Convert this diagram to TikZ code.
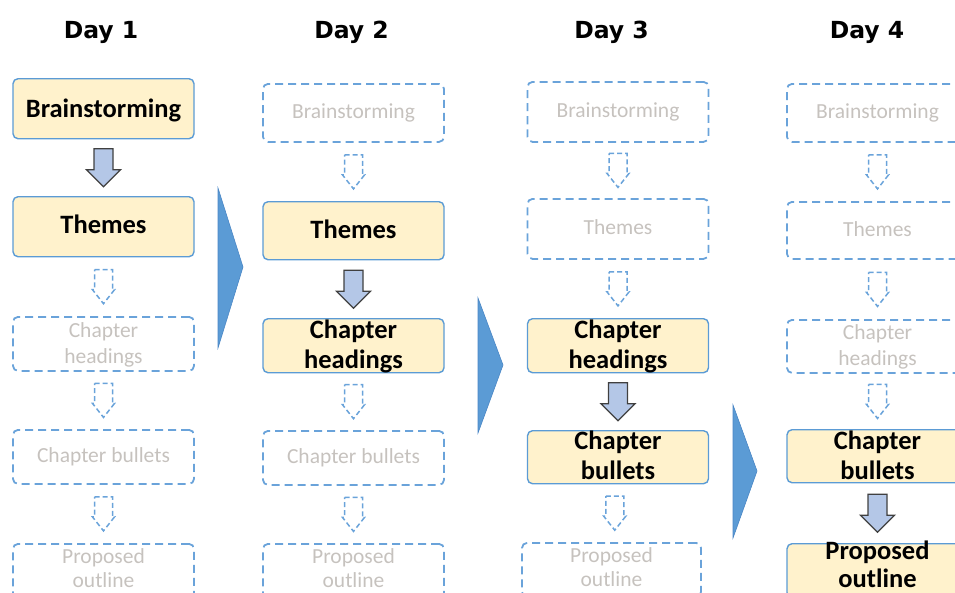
\documentclass[tikz,border=0pt]{standalone}
\usepackage{fontspec}
\setmainfont{Carlito}
\newfontfamily\dayfamily{DejaVu Sans}
\usetikzlibrary{calc}
\definecolor{boxblue}{HTML}{5B9BD5}
\definecolor{dashblue}{HTML}{6AA3DA}
\definecolor{boxfill}{HTML}{FFF2CC}
\definecolor{arrfill}{HTML}{B4C7E7}
\definecolor{arrdraw}{HTML}{404040}
\definecolor{trifill}{HTML}{5B9BD5}
\definecolor{tridraw}{HTML}{4A86C5}
\definecolor{ghostgray}{HTML}{C6C2BE}
\newcommand\actfont{\fontsize{26.5}{30}\selectfont\bfseries}
\newcommand\ghfont{\fontsize{21.5}{26}\selectfont}
\newcommand\dayfont{\dayfamily\fontsize{23.5}{28}\selectfont\bfseries}
% solid block arrow between two named boxes
\newcommand\solidarrow[2]{%
  \path ($(#1.south)!0.5!(#2.north)$) coordinate (m);
  \draw[solidarr] ([shift={(-9.5,-19)}]m) -- ([shift={(9.5,-19)}]m) -- ([shift={(9.5,2)}]m)
    -- ([shift={(17,2)}]m) -- ([shift={(0,19)}]m) -- ([shift={(-17,2)}]m)
    -- ([shift={(-9.5,2)}]m) -- cycle;}
% dashed block arrow between two named boxes
\newcommand\dasharrow[2]{%
  \path ($(#1.south)!0.5!(#2.north)$) coordinate (m);
  \draw[dasharr] ([shift={(-9,-17)}]m) -- ([shift={(9,-17)}]m) -- ([shift={(9,3)}]m)
    -- ([shift={(11,3)}]m) -- ([shift={(0,17)}]m) -- ([shift={(-11,3)}]m)
    -- ([shift={(-9,3)}]m) -- cycle;}
\begin{document}
\begin{tikzpicture}[x=1pt,y=-1pt,
  actbox/.style={draw=boxblue, line width=1.4pt, fill=boxfill, rounded corners=5pt,
     minimum width=181pt, inner sep=0pt, anchor=north},
  ghostbox/.style={draw=dashblue, line width=1.8pt, dash pattern=on 8pt off 5pt,
     rounded corners=5pt, minimum width=181pt, inner sep=0pt, anchor=north},
  acttxt/.style={font=\actfont, text=black, anchor=base, inner sep=0pt},
  ghtxt/.style={font=\ghfont, text=ghostgray, anchor=base, inner sep=0pt},
  daytxt/.style={font=\dayfont, text=black, anchor=base, inner sep=0pt},
  solidarr/.style={draw=arrdraw, line width=1.3pt, fill=arrfill, line join=miter},
  dasharr/.style={draw=dashblue, line width=1.5pt, dash pattern=on 5pt off 3pt},
  bigtri/.style={fill=trifill, draw=tridraw, line width=0.6pt, line join=miter}]
\useasboundingbox (0,0) rectangle (955,592);
\clip (0,0) rectangle (955,592);

% titles
\node[daytxt] (d1) at (101,38) {Day 1};
\node[daytxt] (d2) at (351.5,38) {Day 2};
\node[daytxt] (d3) at (611.5,38) {Day 3};
\node[daytxt] (d4) at (867,38) {Day 4};

% ---------- Column 1 ----------
\node[actbox, minimum height=60pt] (c1a) at (103.5,78) {};
\node[acttxt] at ([yshift=-9pt]c1a.center) {Brainstorming};
\node[actbox, minimum height=60pt] (c1b) at (103.5,196) {};
\node[acttxt] at ([yshift=-7pt]c1b.center) {Themes};
\node[ghostbox, minimum height=54pt] (c1c) at (103.5,316) {};
\node[ghtxt] at ([yshift=6.5pt]c1c.center) {Chapter};
\node[ghtxt] at ([yshift=-19.5pt]c1c.center) {headings};
\node[ghostbox, minimum height=54pt] (c1d) at (103.5,429) {};
\node[ghtxt] at ([yshift=-6pt]c1d.center) {Chapter bullets};
\node[ghostbox, minimum height=54pt] (c1e) at (103.5,543) {};
\node[ghtxt] at ([yshift=7pt]c1e.center) {Proposed};
\node[ghtxt] at ([yshift=-17pt]c1e.center) {outline};
\solidarrow{c1a}{c1b}
\dasharrow{c1b}{c1c}
\dasharrow{c1c}{c1d}
\dasharrow{c1d}{c1e}

% ---------- Column 2 ----------
\node[ghostbox, minimum height=58pt] (c2a) at (353.5,83) {};
\node[ghtxt] at ([yshift=-6pt]c2a.center) {Brainstorming};
\node[actbox, minimum height=58pt] (c2b) at (353.5,201) {};
\node[acttxt] at ([yshift=-7.5pt]c2b.center) {Themes};
\node[actbox, minimum height=54pt] (c2c) at (353.5,318) {};
\node[acttxt] at ([yshift=7.5pt]c2c.center) {Chapter};
\node[acttxt] at ([yshift=-22.5pt]c2c.center) {headings};
\node[ghostbox, minimum height=54pt] (c2d) at (353.5,430) {};
\node[ghtxt] at ([yshift=-6pt]c2d.center) {Chapter bullets};
\node[ghostbox, minimum height=54pt] (c2e) at (353.5,543) {};
\node[ghtxt] at ([yshift=7pt]c2e.center) {Proposed};
\node[ghtxt] at ([yshift=-17pt]c2e.center) {outline};
\dasharrow{c2a}{c2b}
\solidarrow{c2b}{c2c}
\dasharrow{c2c}{c2d}
\dasharrow{c2d}{c2e}

% ---------- Column 3 ----------
\node[ghostbox, minimum height=60pt] (c3a) at (618,81) {};
\node[ghtxt] at ([yshift=-6pt]c3a.center) {Brainstorming};
\node[ghostbox, minimum height=60pt] (c3b) at (618,198) {};
\node[ghtxt] at ([yshift=-6pt]c3b.center) {Themes};
\node[actbox, minimum height=54pt] (c3c) at (618,318) {};
\node[acttxt] at ([yshift=7.5pt]c3c.center) {Chapter};
\node[acttxt] at ([yshift=-22.5pt]c3c.center) {headings};
\node[actbox, minimum height=53pt] (c3d) at (618,430) {};
\node[acttxt] at ([yshift=7.5pt]c3d.center) {Chapter};
\node[acttxt] at ([yshift=-22.5pt]c3d.center) {bullets};
\node[ghostbox, minimum height=54pt, minimum width=179pt] (c3e) at (611.5,542) {};
\node[ghtxt] at ([yshift=7pt]c3e.center) {Proposed};
\node[ghtxt] at ([yshift=-17pt]c3e.center) {outline};
\dasharrow{c3a}{c3b}
\dasharrow{c3b}{c3c}
\solidarrow{c3c}{c3d}
\dasharrow{c3d}{c3e}

% ---------- Column 4 ----------
\node[ghostbox, minimum height=58pt] (c4a) at (877.5,83) {};
\node[ghtxt] at ([yshift=-6pt]c4a.center) {Brainstorming};
\node[ghostbox, minimum height=57pt] (c4b) at (877.5,201) {};
\node[ghtxt] at ([yshift=-6pt]c4b.center) {Themes};
\node[ghostbox, minimum height=53pt] (c4c) at (877.5,319) {};
\node[ghtxt] at ([yshift=6.5pt]c4c.center) {Chapter};
\node[ghtxt] at ([yshift=-19.5pt]c4c.center) {headings};
\node[actbox, minimum height=53pt] (c4d) at (877.5,429) {};
\node[acttxt] at ([yshift=6.5pt]c4d.center) {Chapter};
\node[acttxt] at ([yshift=-23.5pt]c4d.center) {bullets};
\node[actbox, minimum height=54pt] (c4e) at (877.5,543) {};
\node[acttxt] at ([yshift=11pt]c4e.center) {Proposed};
\node[acttxt] at ([yshift=-17pt]c4e.center) {outline};
\dasharrow{c4a}{c4b}
\dasharrow{c4b}{c4c}
\dasharrow{c4c}{c4d}
\solidarrow{c4d}{c4e}

% ---------- big transition triangles ----------
\draw[bigtri] (218,188) -- (243,267) -- (218,348) -- cycle;
\draw[bigtri] (478,298) -- (503,365) -- (478,433) -- cycle;
\draw[bigtri] (733,405) -- (757,471) -- (733,538) -- cycle;
\end{tikzpicture}
\end{document}
